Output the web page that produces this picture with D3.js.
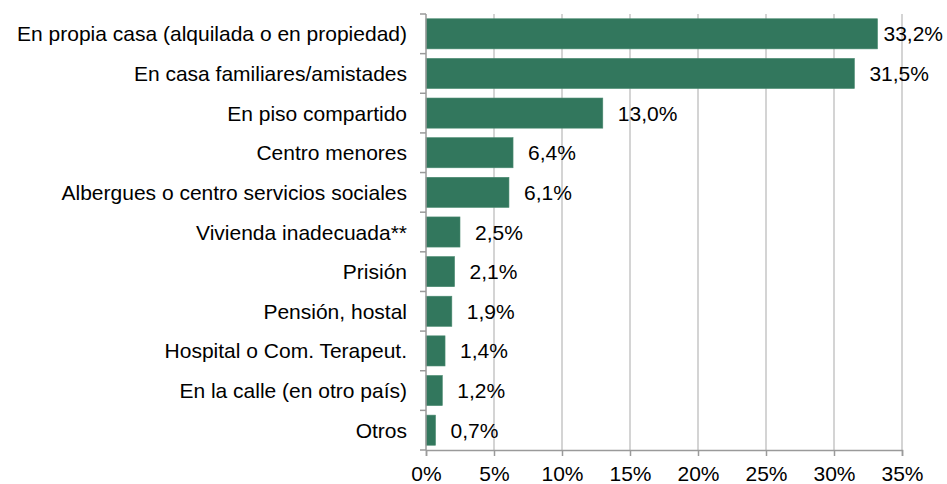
<!DOCTYPE html>
<html>
<head>
<meta charset="utf-8">
<script src="https://cdn.jsdelivr.net/npm/d3@7"></script>
<style>
  body { margin: 0; background: #fff; }
  text { font-family: "Liberation Sans", Arial, sans-serif; fill: #000; }
</style>
</head>
<body>
<div id="chart"></div>
<script>
// categories, top to bottom
const categories = [
  'En propia casa (alquilada o en propiedad)',
  'En casa familiares/amistades',
  'En piso compartido',
  'Centro menores',
  'Albergues o centro servicios sociales',
  'Vivienda inadecuada**',
  'Prisión',
  'Pensión, hostal',
  'Hospital o Com. Terapeut.',
  'En la calle (en otro país)',
  'Otros'
];
const values = [33.2, 31.5, 13.0, 6.4, 6.1, 2.5, 2.1, 1.9, 1.4, 1.2, 0.7];
const xTicks = [0, 5, 10, 15, 20, 25, 30, 35];

const width = 947, height = 484;
const margin = {top: 14, right: 45, bottom: 34, left: 426};
const fontSize = '21px';

const svg = d3.select('#chart').append('svg')
  .attr('width', width)
  .attr('height', height);

const x = d3.scaleLinear()
  .domain([0, 35])
  .range([margin.left, width - margin.right]);

const y = d3.scaleBand()
  .domain(categories)
  .range([margin.top, height - margin.bottom])
  .paddingInner(0.24)
  .paddingOuter(0.12);

const es = d3.formatLocale({decimal: ',', thousands: '.', grouping: [3], currency: ['', '€']});
const fmtVal = es.format('.1f');

// vertical grid lines
svg.append('g')
  .selectAll('line')
  .data(xTicks.slice(1))
  .enter().append('line')
    .attr('x1', d => x(d)).attr('x2', d => x(d))
    .attr('y1', margin.top).attr('y2', height - margin.bottom)
    .attr('stroke', '#c6c6c6')
    .attr('stroke-width', 1.5);

// bars
svg.append('g')
  .selectAll('rect')
  .data(values)
  .enter().append('rect')
    .attr('x', x(0))
    .attr('y', (d, i) => y(categories[i]))
    .attr('width', d => x(d) - x(0))
    .attr('height', y.bandwidth())
    .attr('fill', '#32775d')
    .attr('stroke', '#4a8a70')
    .attr('stroke-width', 0.6);

// value labels
svg.append('g')
  .selectAll('text')
  .data(values)
  .enter().append('text')
    .attr('y', (d, i) => y(categories[i]) + y.bandwidth() / 2)
    .attr('dy', '0.36em')
    .style('font-size', fontSize)
    .text(d => fmtVal(d) + '%')
    .attr('x', function (d) {
      const w = this.getComputedTextLength();
      return Math.min(x(d) + 15, width - w - 4);
    });

// x axis
const xAxis = svg.append('g')
  .attr('transform', `translate(0,${height - margin.bottom})`)
  .call(d3.axisBottom(x).tickValues(xTicks).tickSize(6).tickPadding(10)
    .tickFormat(d => d + '%'));
xAxis.select('.domain').attr('stroke', '#9a9a9a').attr('stroke-width', 1.5);
xAxis.selectAll('.tick line').attr('stroke', '#9a9a9a').attr('stroke-width', 1.5);
xAxis.selectAll('.tick text').style('font-size', fontSize).attr('fill', '#000')
  .style('font-family', '"Liberation Sans", Arial, sans-serif');

// y axis, ticks between categories
const yAxis = svg.append('g')
  .attr('transform', `translate(${margin.left},0)`);
yAxis.append('line')
  .attr('x1', 0).attr('x2', 0)
  .attr('y1', margin.top).attr('y2', height - margin.bottom)
  .attr('stroke', '#9a9a9a').attr('stroke-width', 1.5);
const step = y.step();
const bounds = d3.range(categories.length + 1).map(i => margin.top + i * step);
yAxis.selectAll('line.tk')
  .data(bounds)
  .enter().append('line')
    .attr('class', 'tk')
    .attr('x1', -6).attr('x2', 0)
    .attr('y1', d => d).attr('y2', d => d)
    .attr('stroke', '#9a9a9a').attr('stroke-width', 1.5);

// category labels
svg.append('g')
  .selectAll('text')
  .data(categories)
  .enter().append('text')
    .attr('x', margin.left - 19)
    .attr('y', d => y(d) + y.bandwidth() / 2)
    .attr('dy', '0.36em')
    .attr('text-anchor', 'end')
    .style('font-size', fontSize)
    .text(d => d);
</script>
</body>
</html>
